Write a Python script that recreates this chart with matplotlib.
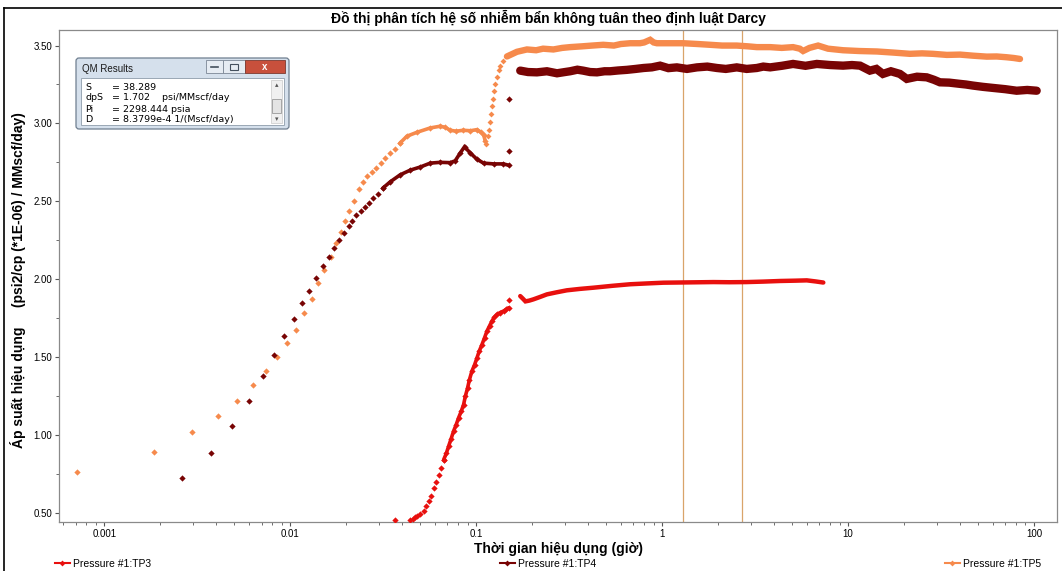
import matplotlib
matplotlib.use("Agg")
import matplotlib.pyplot as plt
from matplotlib.lines import Line2D
from matplotlib.patches import Rectangle, FancyBboxPatch
from matplotlib.ticker import LogLocator, MultipleLocator, FixedLocator, FixedFormatter

plt.rcParams['font.family'] = ['Liberation Sans Narrow', 'Liberation Sans', 'DejaVu Sans']

# --- TP5 (orange) ---
tp5_sparse_t = [0.000716, 0.00184, 0.00296, 0.00408, 0.00519, 0.0063, 0.00743, 0.0085, 0.00964,
                0.01077, 0.01185, 0.01309, 0.0141, 0.0151, 0.01647, 0.01767, 0.01874, 0.01977,
                0.02076, 0.0220, 0.0233, 0.0245, 0.0260, 0.0276, 0.0290, 0.0307, 0.0324, 0.0345,
                0.0367, 0.039]
tp5_sparse_v = [0.76, 0.89, 1.02, 1.12, 1.22, 1.32, 1.41, 1.50, 1.59,
                1.675, 1.78, 1.875, 1.975, 2.06, 2.145, 2.23, 2.305, 2.375,
                2.44, 2.50, 2.58, 2.625, 2.66, 2.685, 2.715, 2.745, 2.78, 2.81,
                2.835, 2.875]
tp5_plateau_t = [0.039, 0.0424, 0.048, 0.0566, 0.064, 0.068, 0.0725, 0.078, 0.0851, 0.093,
                 0.1009, 0.1055, 0.1095, 0.1117]
tp5_plateau_v = [2.875, 2.918, 2.943, 2.971, 2.982, 2.975, 2.956, 2.95, 2.956, 2.953,
                 2.96, 2.945, 2.928, 2.89]
tp5_jump_t = [0.1135, 0.1150, 0.1165, 0.1180, 0.1195, 0.1214, 0.1230, 0.1250, 0.1265, 0.1290,
              0.1320, 0.1346, 0.140]
tp5_jump_v = [2.87, 2.92, 2.96, 3.01, 3.06, 3.11, 3.16, 3.21, 3.25, 3.30,
              3.34, 3.37, 3.40]
tp5_late_t = [0.1463, 0.1656, 0.1874, 0.21, 0.229, 0.26, 0.29, 0.320, 0.37, 0.42, 0.482, 0.55,
              0.60, 0.673, 0.76, 0.80, 0.862, 0.90, 0.937, 1.05, 1.30, 1.55, 1.81, 2.1, 2.52,
              2.9, 3.23, 3.81, 4.4, 5.06, 5.5, 5.73, 6.2, 6.90, 7.8, 9.40, 11.5, 14.3, 17.5,
              21.5, 25, 28.6, 34, 40, 47, 55.7, 63, 71.3, 78, 84.1]
tp5_late_v = [3.43, 3.46, 3.475, 3.47, 3.48, 3.475, 3.485, 3.49, 3.495, 3.50, 3.505, 3.50,
              3.51, 3.515, 3.515, 3.52, 3.537, 3.52, 3.515, 3.515, 3.515, 3.51, 3.505, 3.50, 3.50,
              3.495, 3.49, 3.49, 3.485, 3.49, 3.48, 3.465, 3.485, 3.50, 3.48, 3.47, 3.465, 3.462,
              3.455, 3.447, 3.45, 3.447, 3.44, 3.442, 3.435, 3.429, 3.43, 3.425, 3.42, 3.414]

# --- TP4 (dark red) ---
tp4_sparse_t = [0.00262, 0.00375, 0.00486, 0.00597, 0.0071, 0.00817, 0.00928, 0.01047, 0.01161,
                0.01265, 0.0138, 0.01493, 0.01616, 0.01725, 0.01829, 0.01946, 0.02058, 0.0216,
                0.02264, 0.02388, 0.02508, 0.02635, 0.02793, 0.02962, 0.0315]
tp4_sparse_v = [0.72, 0.88, 1.055, 1.22, 1.375, 1.51, 1.635, 1.745, 1.845,
                1.925, 2.005, 2.085, 2.145, 2.20, 2.25, 2.295, 2.34, 2.375,
                2.41, 2.435, 2.465, 2.49, 2.52, 2.545, 2.585]
tp4_early_t = [0.0315, 0.0345, 0.039, 0.0442, 0.050, 0.0566, 0.064, 0.0725, 0.0771, 0.0820,
               0.0865, 0.0929, 0.1009, 0.1095, 0.124, 0.140, 0.151]
tp4_early_v = [2.585, 2.625, 2.67, 2.70, 2.72, 2.745, 2.75, 2.748, 2.76, 2.81,
               2.85, 2.81, 2.77, 2.745, 2.74, 2.74, 2.73]
tp4_odd_t = [0.151, 0.151]
tp4_odd_v = [3.155, 2.825]
tp4_late_t = [0.1725, 0.19, 0.212, 0.24, 0.272, 0.30, 0.320, 0.35, 0.376, 0.41, 0.446, 0.49,
              0.525, 0.58, 0.646, 0.72, 0.794, 0.88, 0.975, 1.08, 1.20, 1.36, 1.54, 1.75, 1.97,
              2.2, 2.52, 2.85, 3.23, 3.5, 3.81, 4.4, 5.06, 5.9, 6.79, 8.0, 9.40, 10.5, 11.6,
              13.1, 14.2, 15.4, 17.0, 19.0, 20.7, 23.5, 26.5, 29, 31.2, 35, 40.0, 43, 47.0,
              53, 60.2, 70, 80.7, 92, 103.4]
tp4_late_v = [3.339, 3.33, 3.328, 3.335, 3.322, 3.33, 3.335, 3.345, 3.339, 3.33, 3.328, 3.335,
              3.335, 3.34, 3.344, 3.35, 3.356, 3.36, 3.371, 3.355, 3.360, 3.35, 3.360, 3.365, 3.356,
              3.35, 3.360, 3.35, 3.356, 3.365, 3.360, 3.37, 3.382, 3.37, 3.382, 3.375, 3.371,
              3.375, 3.371, 3.339, 3.35, 3.318, 3.335, 3.318, 3.286, 3.30, 3.296, 3.28, 3.264,
              3.262, 3.254, 3.25, 3.243, 3.235, 3.228, 3.22, 3.21, 3.215, 3.21]

# --- TP3 (red) ---
tp3_sparse_t = [0.0367, 0.0438, 0.0455, 0.047, 0.048, 0.050, 0.0521, 0.0538, 0.0555, 0.0573,
                0.0591, 0.061, 0.0628, 0.0648, 0.0668]
tp3_sparse_v = [0.45, 0.455, 0.46, 0.47, 0.476, 0.49, 0.508, 0.54, 0.572, 0.61,
                0.658, 0.70, 0.744, 0.79, 0.84]
tp3_rise_t = [0.0668, 0.0690, 0.0710, 0.0733, 0.0755, 0.0780, 0.0803, 0.083, 0.0855, 0.0875,
              0.0898, 0.0920, 0.0948, 0.098, 0.1009, 0.104, 0.1074, 0.111, 0.1142, 0.118,
              0.1214, 0.125, 0.1292, 0.1345, 0.1402, 0.145, 0.1492]
tp3_rise_v = [0.84, 0.88, 0.926, 0.975, 1.023, 1.065, 1.108, 1.15, 1.194, 1.25,
              1.30, 1.355, 1.409, 1.45, 1.494, 1.54, 1.58, 1.625, 1.666, 1.70,
              1.73, 1.755, 1.773, 1.785, 1.795, 1.805, 1.816]
tp3_odd_t = [0.151]
tp3_odd_v = [1.864]
tp3_late_t = [0.1725, 0.178, 0.184, 0.193, 0.203, 0.220, 0.240, 0.270, 0.307, 0.36, 0.428,
              0.54, 0.673, 0.82, 1.016, 1.4, 1.89, 2.3, 2.85, 3.5, 4.31, 5.2, 6.0, 6.7, 7.36]
tp3_late_v = [1.891, 1.875, 1.857, 1.862, 1.870, 1.885, 1.902, 1.915, 1.928, 1.937, 1.945,
              1.957, 1.967, 1.972, 1.977, 1.979, 1.981, 1.980, 1.981, 1.984, 1.988, 1.99,
              1.992, 1.985, 1.978]

markers_t = [1.30, 2.69]

c_tp3 = '#E8100E'
c_tp4 = '#780404'
c_tp5 = '#F68A4C'

W, H = 1062, 571
fig = plt.figure(figsize=(W / 100, H / 100), dpi=100)
ax = fig.add_axes([59 / W, 1 - 522 / H, (1057 - 59) / W, (522 - 30) / H])

def draw(t, v, c, lw=0, ms=3.2, dots=True):
    if lw:
        ax.plot(t, v, '-', color=c, lw=lw, solid_capstyle='round', solid_joinstyle='miter', zorder=3)
    if dots:
        ax.plot(t, v, 'D', color=c, ms=ms, mew=0, ls='none', zorder=4)

draw(tp5_sparse_t, tp5_sparse_v, c_tp5)
draw(tp5_plateau_t, tp5_plateau_v, c_tp5, lw=2.6)
draw(tp5_jump_t, tp5_jump_v, c_tp5, ms=3.0)
draw(tp5_late_t, tp5_late_v, c_tp5, lw=4.6, dots=False)

draw(tp4_sparse_t, tp4_sparse_v, c_tp4)
draw(tp4_early_t, tp4_early_v, c_tp4, lw=2.6)
draw(tp4_odd_t, tp4_odd_v, c_tp4)
draw(tp4_late_t, tp4_late_v, c_tp4, lw=6, dots=False)

draw(tp3_sparse_t, tp3_sparse_v, c_tp3)
draw(tp3_rise_t, tp3_rise_v, c_tp3, lw=2.6)
draw(tp3_odd_t, tp3_odd_v, c_tp3)
draw(tp3_late_t, tp3_late_v, c_tp3, lw=3.2, dots=False)

for m in markers_t:
    ax.axvline(m, color='#D9A46A', lw=0.9, zorder=2)

ax.set_xscale('log')
ax.set_xlim(0.00057, 133)
ax.set_ylim(0.44, 3.60)
ax.xaxis.set_major_locator(FixedLocator([0.001, 0.01, 0.1, 1, 10, 100]))
ax.xaxis.set_major_formatter(FixedFormatter(['0.001', '0.01', '0.1', '1', '10', '100']))
ax.xaxis.set_minor_locator(LogLocator(base=10, subs=range(2, 10)))
ax.xaxis.set_minor_formatter(FixedFormatter([]))
ax.yaxis.set_major_locator(MultipleLocator(0.5))
ax.yaxis.set_minor_locator(MultipleLocator(0.25))
ax.yaxis.set_major_formatter(plt.FuncFormatter(lambda v, p: f'{v:.2f}'))
ax.tick_params(axis='both', which='major', labelsize=7, length=3, color='#555555', pad=2)
ax.tick_params(axis='both', which='minor', length=2, color='#555555')
for s in ax.spines.values():
    s.set_color('#8A8A8A')
    s.set_linewidth(0.9)

ax.set_xlabel('Thời gian hiệu dụng (giờ)', fontsize=10, fontweight='bold', labelpad=2)
fig.text(18 / W, 1 - 280 / H, 'Áp suất hiệu dụng     (psi2/cp (*1E-06) / MMscf/day)',
         rotation=90, ha='center', va='center', fontsize=10, fontweight='bold')
fig.text(548 / W, 1 - 18 / H, 'Đồ thị phân tích hệ số nhiễm bẩn không tuân theo định luật Darcy',
         ha='center', va='center', fontsize=10, fontweight='bold')

# frame lines round the page
fig.add_artist(Line2D([4 / W, 1], [1 - 8 / H, 1 - 8 / H], color='black', lw=1.2))
fig.add_artist(Line2D([4 / W, 4 / W], [0, 1 - 8 / H], color='black', lw=1.2))

# legend entries along the bottom
for lab, c, xpos in [('Pressure #1:TP3', c_tp3, 55), ('Pressure #1:TP4', c_tp4, 500),
                     ('Pressure #1:TP5', c_tp5, 945)]:
    h = Line2D([], [], color=c, lw=1.5, marker='D', ms=3, mew=0)
    fig.legend(handles=[h], labels=[lab], loc='center left',
               bbox_to_anchor=(xpos / W, 1 - 564 / H), frameon=False, fontsize=7.5,
               handlelength=1.4, handletextpad=0.3, borderpad=0, borderaxespad=0)

# results window inset
qx, qy, qw, qh = 75, 57, 215, 73
qa = fig.add_axes([qx / W, 1 - (qy + qh) / H, qw / W, qh / H])
qa.set_xlim(0, qw)
qa.set_ylim(qh, 0)
qa.axis('off')
qa.add_patch(FancyBboxPatch((1, 1), qw - 2, qh - 2, boxstyle='round,pad=0,rounding_size=3',
                            fc='#D5E0EC', ec='#6F7F90', lw=0.9))
qa.add_patch(Rectangle((6, 21), qw - 12, qh - 26, fc='white', ec='#9AA7B5', lw=0.7))
qa.text(7, 12, 'QM Results', fontsize=7, va='center', ha='left', color='#1A1A1A')
qa.add_patch(Rectangle((131, 3), 17, 13, fc='#E6ECF3', ec='#7C8796', lw=0.6))
qa.add_patch(Rectangle((148, 3), 22, 13, fc='#E6ECF3', ec='#7C8796', lw=0.6))
qa.add_patch(Rectangle((170, 3), 40, 13, fc='#C8503C', ec='#7C3A30', lw=0.6))
qa.plot([136, 143], [10, 10], color='#44505E', lw=1.2)
qa.add_patch(Rectangle((155, 6.5), 8, 6, fc='none', ec='#44505E', lw=0.8))
qa.text(190, 9.5, 'x', fontsize=7, color='white', ha='center', va='center', fontweight='bold')
qa.add_patch(Rectangle((196, 23), 11, qh - 30, fc='#F0F0F0', ec='#C8C8C8', lw=0.5))
qa.add_patch(Rectangle((197, 42), 9, 14, fc='#E4E4E4', ec='#9A9A9A', lw=0.6))
qa.text(201.5, 29, '▴', fontsize=5, ha='center', va='center', color='#555555')
qa.text(201.5, 63, '▾', fontsize=5, ha='center', va='center', color='#555555')

qm_keys = ['S', 'dpS', 'Pi', 'D']
qm_vals = ['= 38.289', '= 1.702    psi/MMscf/day', '= 2298.444 psia', '= 8.3799e-4 1/(Mscf/day)']
for i, (k, v) in enumerate(zip(qm_keys, qm_vals)):
    yy = 30 + i * 11
    qa.text(10, yy, k, fontsize=6.8, va='center', ha='left', family='DejaVu Sans')
    qa.text(37, yy, v, fontsize=6.8, va='center', ha='left', family='DejaVu Sans')

fig.savefig('out.png', dpi=100)
